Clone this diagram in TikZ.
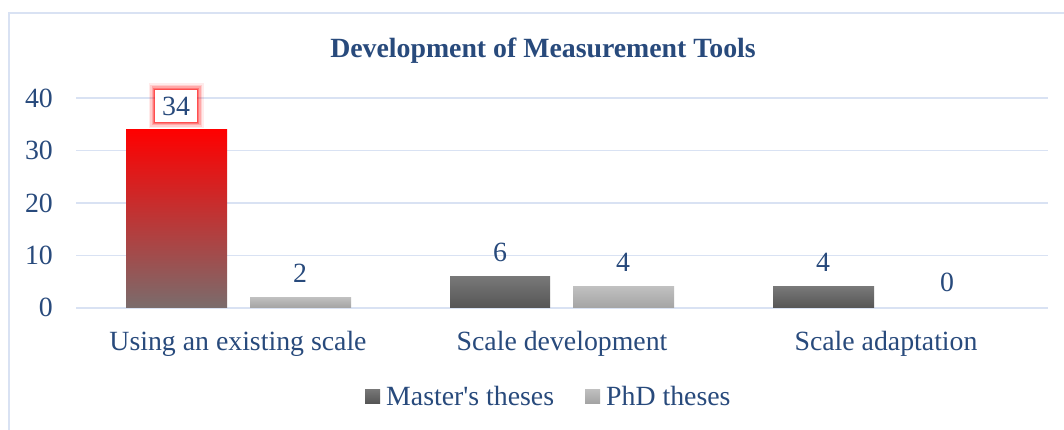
\documentclass[tikz,border=0pt]{standalone}
\usepackage{fontspec}
\setmainfont{Liberation Serif}
\definecolor{txtblue}{RGB}{40,74,124}
\definecolor{gridblue}{RGB}{217,226,243}
\definecolor{redtop}{RGB}{255,0,0}
\definecolor{redbot}{RGB}{122,108,108}
\definecolor{mastertop}{RGB}{120,120,120}
\definecolor{masterbot}{RGB}{86,86,86}
\definecolor{phdtop}{RGB}{192,192,192}
\definecolor{phdbot}{RGB}{164,164,164}
\tikzset{
  lbl/.style={text=txtblue, font=\fontsize{27.8}{32}\selectfont, inner sep=0pt},
  gridline/.style={draw=gridblue, line width=1.6pt},
  masterbar/.style={top color=mastertop, bottom color=masterbot},
  phdbar/.style={top color=phdtop, bottom color=phdbot},
  glowbox/.style={fill=white, inner sep=0pt, minimum width=42pt, minimum height=32pt,
    preaction={draw=red, line width=13pt, opacity=0.08, rounded corners=4pt},
    preaction={draw=red, line width=10pt, opacity=0.12, rounded corners=3pt},
    preaction={draw=red, line width=7pt, opacity=0.18, rounded corners=2pt},
    preaction={draw=red, line width=4pt, opacity=0.28},
    preaction={draw=red, line width=1.5pt, opacity=0.35}}
}
\begin{document}
\begin{tikzpicture}[x=1pt, y=-1pt]
  \useasboundingbox (0,0) rectangle (1064,430);
  \fill[white] (0,0) rectangle (1064,430);
  % frame
  \draw[draw=gridblue, line width=2pt] (9,430) -- (9,13) -- (1064,13);

  \node[lbl, font=\fontsize{27.8}{32}\selectfont\bfseries, anchor=base] (title) at (543,58) {Development of Measurement Tools};

  % grid
  \draw[gridline] (76,307.7) -- (1048,307.7);
  \draw[gridline] (76,255.3) -- (1048,255.3);
  \draw[gridline] (76,202.9) -- (1048,202.9);
  \draw[gridline] (76,150.5) -- (1048,150.5);
  \draw[gridline] (76,98.1) -- (1048,98.1);

  \node[lbl, anchor=east] (y0) at (53,307.7) {0};
  \node[lbl, anchor=east] (y10) at (53,255.3) {10};
  \node[lbl, anchor=east] (y20) at (53,202.9) {20};
  \node[lbl, anchor=east] (y30) at (53,150.5) {30};
  \node[lbl, anchor=east] (y40) at (53,98.1) {40};

  % bars
  \fill[top color=redtop, bottom color=redbot] (126,129.5) rectangle (227,307.7);
  \fill[phdbar] (250,297.2) rectangle (351,307.7);
  \fill[masterbar] (450,276.3) rectangle (550,307.7);
  \fill[phdbar] (573,286.7) rectangle (674,307.7);
  \fill[masterbar] (773,286.7) rectangle (874,307.7);

  % values
  \node[lbl, glowbox] (v34) at (176,106) {34};
  \node[lbl] (v2) at (300,273) {2};
  \node[lbl] (v6) at (500,252) {6};
  \node[lbl] (v4a) at (623,262) {4};
  \node[lbl] (v4b) at (823,262) {4};
  \node[lbl] (v0) at (947,282) {0};

  % categories
  \node[lbl, anchor=base] (using) at (238,350) {Using an existing scale};
  \node[lbl, anchor=base] (develop) at (562,350) {Scale development};
  \node[lbl, anchor=base] (adapt) at (886,350) {Scale adaptation};

  % legend
  \fill[masterbar] (365,389) rectangle (380,403);
  \node[lbl, anchor=base west] (master) at (386,405) {Master\textquotesingle s theses};
  \fill[phdbar] (585,389) rectangle (600,403);
  \node[lbl, anchor=base west] (phd) at (606,405) {PhD theses};
\end{tikzpicture}
\end{document}
